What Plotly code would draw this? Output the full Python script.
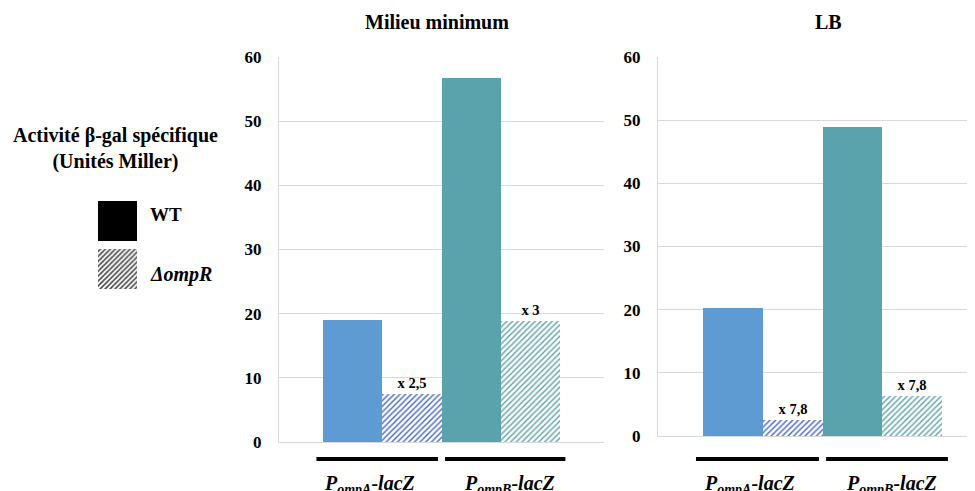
"""Beta-gal activity of PompA-lacZ / PompB-lacZ fusions, WT vs ompR mutant."""

import plotly.graph_objects as go

W, H = 975, 491
OFF = 8  # page offset of the plot div, in pixels
SERIF = "Liberation Serif"

# Data
groups = ["PompA-lacZ", "PompB-lacZ"]
group_labels = ["P<sub>ompA</sub>-lacZ", "P<sub>ompB</sub>-lacZ"]
mm_wt = [19.0, 56.7]
mm_ompr = [7.5, 18.8]
mm_fold = ["x 2,5", "x 3"]
lb_wt = [20.3, 48.9]
lb_ompr = [2.6, 6.3]
lb_fold = ["x 7,8", "x 7,8"]
legend_names = ["\u0394ompR", "WT"]

wt_colors = ["#5e9bd2", "#5aa3ad"]
ompr_colors = ["#4466c4", "#5aa3ad"]


def px_x(p):
    return (p - OFF) / W


def px_y(p):
    return 1 - (p - OFF) / H


fig = go.Figure()

panels = [
    ("x", "y", mm_wt, mm_ompr, mm_fold),
    ("x2", "y2", lb_wt, lb_ompr, lb_fold),
]
for xa, ya, wt, ompr, fold in panels:
    fig.add_trace(go.Bar(
        x=groups, y=wt, xaxis=xa, yaxis=ya, name="WT",
        marker=dict(color=wt_colors, line=dict(width=0)),
        showlegend=False, hoverinfo="y",
    ))
    fig.add_trace(go.Bar(
        x=groups, y=ompr, xaxis=xa, yaxis=ya, name="\u0394ompR",
        marker=dict(
            color="white",
            line=dict(width=0),
            pattern=dict(shape="/", size=4, solidity=0.35, fgcolor=ompr_colors,
                         fgopacity=1, fillmode="overlay"),
        ),
        text=fold, textposition="outside", cliponaxis=False,
        textfont=dict(family=SERIF, size=14.5, color="black", weight="bold"),
        showlegend=False, hoverinfo="y",
    ))

# legend swatches drawn as a tiny bar subplot
fig.add_trace(go.Bar(
    y=legend_names, x=[1, 1], orientation="h", xaxis="x3", yaxis="y3",
    width=0.83,
    marker=dict(color=["white", "black"], line=dict(width=0),
                pattern=dict(shape=["/", ""], size=3.5, solidity=0.45, fgcolor="black",
                             fgopacity=1, fillmode="overlay")),
    showlegend=False, hoverinfo="skip",
))

yaxis_style = dict(
    range=[0, 60], dtick=10, showgrid=True, gridcolor="#d9d9d9", gridwidth=1,
    showline=True, linecolor="#d9d9d9", zeroline=False, ticks="",
    ticklabelstandoff=13, automargin=False,
    tickfont=dict(family=SERIF, size=17, color="black", weight="bold"),
)
xaxis_style = dict(
    type="category", showticklabels=False, showline=True, linecolor="#d9d9d9",
    showgrid=False, zeroline=False, ticks="", automargin=False,
)

fig.update_layout(
    width=W, height=H,
    margin=dict(l=0, r=0, t=0, b=0, autoexpand=False),
    paper_bgcolor="white", plot_bgcolor="white",
    barmode="group", bargap=0, bargroupgap=0,
    xaxis=dict(xaxis_style, domain=[px_x(279), px_x(604)], range=[-0.877, 1.877]),
    yaxis=dict(yaxis_style, domain=[px_y(442), px_y(57)], anchor="x"),
    xaxis2=dict(xaxis_style, domain=[px_x(658), px_x(975)], range=[-0.878, 1.777], anchor="y2"),
    yaxis2=dict(yaxis_style, domain=[px_y(436), px_y(57)], anchor="x2"),
    xaxis3=dict(domain=[px_x(98), px_x(137)], range=[0, 1], visible=False, anchor="y3",
                automargin=False),
    yaxis3=dict(domain=[px_y(293), px_y(197)], visible=False, anchor="x3", type="category",
                automargin=False),
    font=dict(family=SERIF, color="black"),
)

# panel titles
for text, x in [("Milieu minimum", 437), ("LB", 828)]:
    fig.add_annotation(
        text=f"<b>{text}</b>", xref="paper", yref="paper",
        x=px_x(x), y=px_y(22), xanchor="center", yanchor="middle", showarrow=False,
        font=dict(family=SERIF, size=20, color="black"),
    )

# legend title and labels
fig.add_annotation(
    text="<b>Activité β-gal spécifique<br>(Unités Miller)</b>",
    xref="paper", yref="paper", x=px_x(115), y=px_y(148),
    xanchor="center", yanchor="middle", showarrow=False,
    font=dict(family=SERIF, size=20, color="black"),
)
fig.add_annotation(
    text="<b>WT</b>", xref="paper", yref="paper", x=px_x(148), y=px_y(214),
    xanchor="left", yanchor="middle", showarrow=False,
    font=dict(family=SERIF, size=19, color="black"),
)
fig.add_annotation(
    text="<b><i>\u0394ompR</i></b>", xref="paper", yref="paper", x=px_x(148), y=px_y(274),
    xanchor="left", yanchor="middle", showarrow=False,
    font=dict(family=SERIF, size=20, color="black"),
)

# group bars and labels under each panel
for xa in ["x", "x2"]:
    for x0, x1 in [(-0.56, 0.47), (0.53, 1.55)]:
        fig.add_shape(
            type="line", xref=xa, yref="paper", x0=x0, x1=x1,
            y0=px_y(459), y1=px_y(459), line=dict(color="black", width=4),
        )
    for lab, xpos in zip(group_labels, [-0.11, 1.08]):
        fig.add_annotation(
            text=f"<b><i>{lab}</i></b>", xref=xa, yref="paper", x=xpos, y=px_y(484),
            xanchor="center", yanchor="middle", showarrow=False,
            font=dict(family=SERIF, size=20, color="black"),
        )

fig.write_html("out.html")
